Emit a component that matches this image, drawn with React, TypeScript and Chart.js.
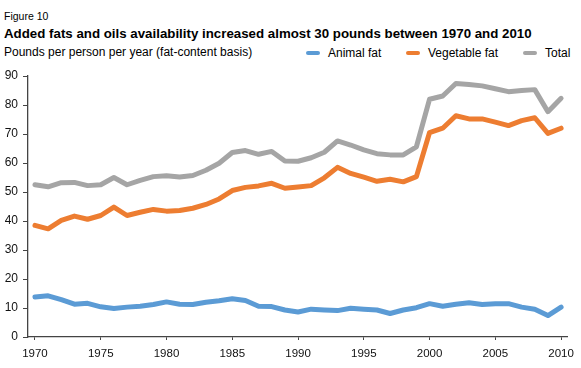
import React, { useEffect, useRef } from "react";
import { Chart, registerables } from "chart.js";

Chart.register(...registerables);

const years = [
  1970, 1971, 1972, 1973, 1974, 1975, 1976, 1977, 1978, 1979,
  1980, 1981, 1982, 1983, 1984, 1985, 1986, 1987, 1988, 1989,
  1990, 1991, 1992, 1993, 1994, 1995, 1996, 1997, 1998, 1999,
  2000, 2001, 2002, 2003, 2004, 2005, 2006, 2007, 2008, 2009, 2010,
];

const animalFat = [
  13.8, 14.2, 12.9, 11.3, 11.6, 10.4, 9.8, 10.3, 10.6, 11.2,
  12.1, 11.3, 11.2, 12.0, 12.5, 13.2, 12.6, 10.6, 10.5, 9.3,
  8.6, 9.6, 9.3, 9.1, 9.9, 9.6, 9.3, 8.1, 9.3, 10.1,
  11.5, 10.6, 11.3, 11.8, 11.2, 11.5, 11.5, 10.3, 9.6, 7.4, 10.3,
];

const vegetableFat = [
  38.5, 37.3, 40.2, 41.7, 40.6, 41.9, 44.8, 41.9, 43.0, 44.0,
  43.4, 43.6, 44.4, 45.7, 47.6, 50.5, 51.6, 52.1, 53.0, 51.3,
  51.7, 52.2, 54.9, 58.5, 56.4, 55.1, 53.7, 54.4, 53.5, 55.3,
  70.5, 72.0, 76.3, 75.2, 75.2, 74.1, 72.9, 74.6, 75.6, 70.2, 72.0,
];

const total = [
  52.5, 51.8, 53.2, 53.3, 52.2, 52.5, 55.0, 52.5, 54.0, 55.3,
  55.6, 55.2, 55.7, 57.5, 59.9, 63.6, 64.3, 63.0, 64.0, 60.7,
  60.6, 61.8, 63.7, 67.6, 66.2, 64.5, 63.2, 62.8, 62.8, 65.6,
  82.0, 83.1, 87.4, 87.1, 86.6, 85.6, 84.6, 85.0, 85.3, 77.7, 82.3,
];

const yTicks = [0, 10, 20, 30, 40, 50, 60, 70, 80, 90];
const xTicks = [1970, 1975, 1980, 1985, 1990, 1995, 2000, 2005, 2010];

const seriesNames = ["Animal fat", "Vegetable fat", "Total"];
const seriesColors = ["#5b9bd5", "#ed7d31", "#a5a5a5"];

const FONT = "'Liberation Sans', Arial, sans-serif";

export default function App() {
  const canvasRef = useRef<HTMLCanvasElement | null>(null);

  useEffect(() => {
    const canvas = canvasRef.current;
    if (!canvas) return;
    const seriesData = [animalFat, vegetableFat, total];
    const chart = new Chart(canvas, {
      type: "line",
      data: {
        datasets: seriesNames.map((name, i) => ({
          label: name,
          data: years.map((y, j) => ({ x: y, y: seriesData[i][j] })),
          borderColor: seriesColors[i],
          backgroundColor: seriesColors[i],
          borderWidth: 5,
          pointRadius: 0,
          tension: 0,
          borderJoinStyle: "round" as const,
          borderCapStyle: "round" as const,
        })),
      },
      options: {
        animation: false,
        responsive: false,
        maintainAspectRatio: false,
        layout: { padding: { top: 16, right: 11, left: 0, bottom: 0 } },
        plugins: {
          legend: { display: false },
          title: { display: false },
          tooltip: { enabled: false },
        },
        scales: {
          x: {
            type: "linear",
            min: 1969.47,
            max: 2010.45,
            afterBuildTicks: (scale: any) => {
              scale.ticks = xTicks.map((v) => ({ value: v }));
            },
            afterFit: (scale: any) => {
              scale.height = 31;
            },
            grid: {
              display: true,
              drawOnChartArea: false,
              drawTicks: true,
              tickLength: 3,
              color: "#444",
            },
            border: { display: true, color: "#444", width: 1.3 },
            ticks: {
              color: "#111",
              font: { family: FONT, size: 11.5 },
              padding: 7,
              maxRotation: 0,
              autoSkip: false,
              callback: (v: any) => String(v),
            },
          },
          y: {
            min: 0,
            max: 90,
            afterBuildTicks: (scale: any) => {
              scale.ticks = yTicks.map((v) => ({ value: v }));
            },
            afterFit: (scale: any) => {
              scale.width = 28;
            },
            grid: {
              display: true,
              drawOnChartArea: false,
              drawTicks: true,
              tickLength: 5,
              color: "#444",
            },
            border: { display: true, color: "#444", width: 1.3 },
            ticks: {
              color: "#111",
              font: { family: FONT, size: 12 },
              padding: 5,
            },
          },
        },
      },
    });
    return () => chart.destroy();
  }, []);

  return (
    <div
      style={{
        position: "fixed",
        left: 0,
        top: 0,
        width: 581,
        height: 368,
        background: "#fff",
        fontFamily: FONT,
        color: "#000",
      }}
    >
      <div style={{ position: "absolute", left: 4, top: 10, fontSize: 10.5, lineHeight: "12px" }}>
        Figure 10
      </div>
      <div
        style={{
          position: "absolute",
          left: 4,
          top: 26,
          fontSize: 13.3,
          fontWeight: "bold",
          lineHeight: "15px",
          whiteSpace: "nowrap",
        }}
      >
        Added fats and oils availability increased almost 30 pounds between 1970 and 2010
      </div>
      <div
        style={{
          position: "absolute",
          left: 4,
          top: 45,
          fontSize: 12,
          lineHeight: "15px",
          whiteSpace: "nowrap",
        }}
      >
        Pounds per person per year (fat-content basis)
      </div>
      {seriesNames.map((name, i) => {
        const lefts = [306, 406, 523];
        return (
          <div
            key={name}
            style={{
              position: "absolute",
              left: lefts[i],
              top: 45,
              height: 15,
              display: "flex",
              alignItems: "center",
              fontSize: 12,
              whiteSpace: "nowrap",
            }}
          >
            <span
              style={{
                display: "inline-block",
                width: 14,
                height: 4,
                borderRadius: 2,
                background: seriesColors[i],
                marginRight: 8,
              }}
            />
            {name}
          </div>
        );
      })}
      <canvas
        ref={canvasRef}
        width={581}
        height={308}
        style={{ position: "absolute", left: 0, top: 60, width: 581, height: 308 }}
      />
    </div>
  );
}
